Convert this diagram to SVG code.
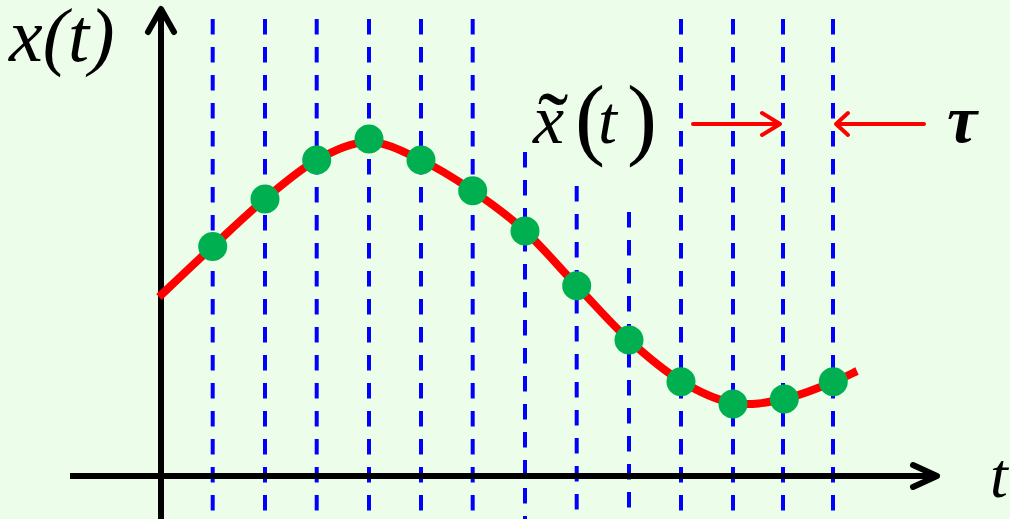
<svg xmlns="http://www.w3.org/2000/svg" width="1010" height="519" viewBox="0 0 1010 519">
<style>
.grid line{stroke:#0000ff;stroke-width:4;stroke-dasharray:15.5 12.5;fill:none}
.axis{stroke:#000;stroke-width:6;fill:none;stroke-linecap:round;stroke-linejoin:round}
.ax{stroke:#000;stroke-width:6;fill:none}
.red{stroke:#ff0000;stroke-width:4;fill:none;stroke-linecap:round;stroke-linejoin:round}
.dot{fill:#00b050}
.lbl{font-family:"Liberation Serif","Times New Roman",serif;fill:#000}
.it{font-style:italic}
</style>
<rect width="1010" height="519" fill="#ecfeea"/>
<g id="grid" class="grid">
<line x1="212.7" y1="19" x2="212.7" y2="511"/>
<line x1="265" y1="19" x2="265" y2="511"/>
<line x1="316.7" y1="19" x2="316.7" y2="511"/>
<line x1="369" y1="19" x2="369" y2="511"/>
<line x1="421" y1="19" x2="421" y2="511"/>
<line x1="472.7" y1="19" x2="472.7" y2="511"/>
<line x1="525" y1="152" x2="525" y2="519"/>
<line x1="576.7" y1="186" x2="576.7" y2="511"/>
<line x1="629" y1="212" x2="629" y2="511"/>
<line x1="681" y1="19" x2="681" y2="511"/>
<line x1="733" y1="19" x2="733" y2="511"/>
<line x1="783" y1="19" x2="783" y2="511"/>
<line x1="833" y1="19" x2="833" y2="511"/>
</g>
<g id="axes">
<line class="ax" x1="161" y1="10" x2="161" y2="519"/>
<polyline class="axis" points="148,32 161,9 174,32"/>
<line class="ax" x1="70" y1="476" x2="935" y2="476"/>
<polyline class="axis" points="913,465 937,476 913,487"/>
</g>
<g id="curve">
<path d="M159,297 C167.95,288.58 195.03,262.83 212.7,246.5 C230.37,230.170 247.67,213.42 265,199 C282.33,184.58 299.37,169.5 316.7,160 C334.03,150.5 351.62,142 369,142 C386.38,142 403.72,151.88 421,160 C438.28,168.12 455.37,178.87 472.7,190.7 C490.03,202.53 507.67,215.17 525,231 C542.33,246.83 559.37,267.53 576.7,285.7 C594.03,303.87 611.62,324.12 629,340 C646.38,355.88 663.67,370.5 681,381 C698.33,391.5 715.83,400 733,403 C750.17,406 767.33,402.5 784,399 C800.67,395.5 820.83,386.67 833,382 C845.17,377.33 853,372.83 857,371" stroke="#ff0000" stroke-width="8" fill="none"/>
</g>
<g id="samples">
<circle class="dot" cx="212.7" cy="246.5" r="14.5"/>
<circle class="dot" cx="265" cy="199" r="14.5"/>
<circle class="dot" cx="316.7" cy="160" r="14.5"/>
<circle class="dot" cx="369" cy="139" r="14.5"/>
<circle class="dot" cx="421" cy="160" r="14.5"/>
<circle class="dot" cx="472.7" cy="190.7" r="14.5"/>
<circle class="dot" cx="525" cy="231" r="14.5"/>
<circle class="dot" cx="576.7" cy="285.7" r="14.5"/>
<circle class="dot" cx="629" cy="340" r="14.5"/>
<circle class="dot" cx="681" cy="381.7" r="14.5"/>
<circle class="dot" cx="733" cy="404" r="14.5"/>
<circle class="dot" cx="784.3" cy="399" r="14.5"/>
<circle class="dot" cx="833.3" cy="381.7" r="14.5"/>
</g>
<g id="connectors">
<line class="red" x1="693" y1="124" x2="779" y2="124"/>
<polyline class="red" points="762,113 780,124 762,135"/>
<line class="red" x1="924" y1="124" x2="837" y2="124"/>
<polyline class="red" points="848,113 836,124 848,135"/>
</g>
<g id="label-xt">
<text class="lbl it" x="9" y="61" font-size="76">x(t)</text>
</g>
<g id="label-xtilde">
<text class="lbl"><tspan class="it" x="533" y="143" font-size="70">x</tspan><tspan x="553" y="155" font-size="92" text-anchor="middle">˜</tspan><tspan x="575" y="148" font-size="90">(</tspan><tspan class="it" x="598" y="143" font-size="68">t</tspan><tspan x="627" y="148" font-size="90">)</tspan></text>
</g>
<g id="label-tau">
<text class="lbl it" x="947" y="142" font-size="68" font-weight="bold">τ</text>
</g>
<g id="label-t">
<text class="lbl it" x="990" y="497" font-size="64">t</text>
</g>
</svg>
